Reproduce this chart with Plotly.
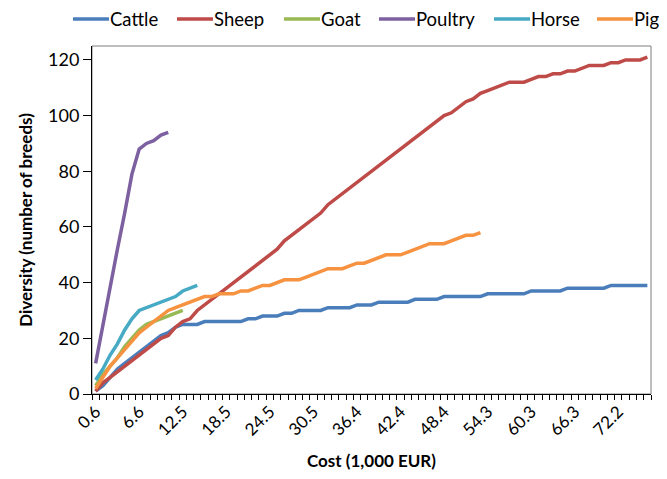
import plotly.graph_objects as go

categories = ["0.6","1.6","2.6","3.6","4.6","5.6","6.6","7.6","8.6","9.6","10.6","11.5","12.5","13.5",
              "14.5","15.5","16.5","17.5","18.5","19.5","20.5","21.5","22.5","23.5","24.5","25.5","26.5",
              "27.5","28.5","29.5","30.5","31.4","32.4","33.4","34.4","35.4","36.4","37.4","38.4","39.4",
              "40.4","41.4","42.4","43.4","44.4","45.4","46.4","47.4","48.4","49.4","50.4","51.3","52.3",
              "53.3","54.3","55.3","56.3","57.3","58.3","59.3","60.3","61.3","62.3","63.3","64.3","65.3",
              "66.3","67.3","68.3","69.3","70.3","71.2","72.2","73.2","74.2","75.2","76.2"]

tick_labels = ["0.6","6.6","12.5","18.5","24.5","30.5","36.4","42.4","48.4","54.3","60.3","66.3","72.2"]

cattle = [1,3,6,9,11,13,15,17,19,21,22,24,25,25,25,26,26,26,26,26,26,27,27,28,28,28,29,29,30,30,
          30,30,31,31,31,31,32,32,32,33,33,33,33,33,34,34,34,34,35,35,35,35,35,35,36,36,36,36,36,36,
          37,37,37,37,37,38,38,38,38,38,38,39,39,39,39,39,39]
sheep = [1,4,6,8,10,12,14,16,18,20,21,24,26,27,30,32,34,36,38,40,42,44,46,48,50,52,55,57,59,61,
         63,65,68,70,72,74,76,78,80,82,84,86,88,90,92,94,96,98,100,101,103,105,106,108,109,110,111,112,112,112,
         113,114,114,115,115,116,116,117,118,118,118,119,119,120,120,120,121]
goat = [3,7,10,13,17,20,23,25,26,27,28,29,30]
poultry = [11,25,39,52,65,79,88,90,91,93,94]
horse = [5,9,14,18,23,27,30,31,32,33,34,35,37,38,39]
pig = [2,6,10,13,16,19,22,24,26,28,30,31,32,33,34,35,35,36,36,36,37,37,38,39,39,40,41,41,41,42,
       43,44,45,45,45,46,47,47,48,49,50,50,50,51,52,53,54,54,54,55,56,57,57,58]

series = [("Cattle", cattle, "#4A7EBB"), ("Sheep", sheep, "#BE4B48"), ("Goat", goat, "#98B954"),
          ("Poultry", poultry, "#7D60A0"), ("Horse", horse, "#46AAC5"), ("Pig", pig, "#F69240")]

# ---- layout geometry (figure pixels) ----
W, H = 659, 463
ML, MR, MT, MB = 84, 16, 38, 77
PW, PH = W - ML - MR, H - MT - MB
LEG_Y = 11
LEG_LINE_X = [65, 169, 276, 371, 486, 589]
LEG_LINE_LEN = 36


def px2paper_x(px):
    return (px - ML) / PW


def px2paper_y(py):
    return (H - MB - py) / PH


FONT = "Lato"
fig = go.Figure()
for name, vals, col in series:
    fig.add_trace(go.Scatter(x=categories[:len(vals)], y=vals, name=name, mode="lines",
                             line=dict(color=col, width=3.5), showlegend=False))

shapes = [dict(type="rect", xref="paper", yref="paper", x0=0, x1=1, y0=0, y1=1,
               line=dict(color="#7f7f7f", width=1), layer="below")]
annotations = []
for (name, vals, col), lx in zip(series, LEG_LINE_X):
    shapes.append(dict(type="line", xref="paper", yref="paper",
                       x0=px2paper_x(lx), x1=px2paper_x(lx + LEG_LINE_LEN),
                       y0=px2paper_y(LEG_Y), y1=px2paper_y(LEG_Y),
                       line=dict(color=col, width=3.5)))
    annotations.append(dict(text=name, xref="paper", yref="paper",
                            x=px2paper_x(lx + LEG_LINE_LEN + 1), y=px2paper_y(LEG_Y),
                            xanchor="left", yanchor="middle", showarrow=False,
                            borderpad=0, borderwidth=0,
                            font=dict(family=FONT, size=18.5, color="#000")))

ticktext = [c if c in tick_labels else "" for c in categories]
fig.update_layout(
    width=W, height=H,
    margin=dict(l=ML, r=MR, t=MT, b=MB, autoexpand=False),
    paper_bgcolor="white", plot_bgcolor="white",
    font=dict(family=FONT, size=17, color="#000"),
    showlegend=False,
    xaxis=dict(type="category", categoryorder="array", categoryarray=categories,
               tickmode="array", tickvals=categories, ticktext=ticktext, automargin=False,
               tickson="boundaries", ticks="outside", ticklen=5, tickcolor="#000",
               tickangle=-45, showline=True, linecolor="#000", linewidth=1,
               showgrid=False, zeroline=False, range=[-0.5, len(categories) - 0.5],
               tickfont=dict(size=17),
               title=dict(text="<b>Cost (1,000 EUR)</b>", font=dict(size=17), standoff=22)),
    yaxis=dict(range=[0, 125], tickvals=[0, 20, 40, 60, 80, 100, 120], ticks="outside", ticklen=8,
               tickcolor="#000", showline=True, linecolor="#000", linewidth=1, showgrid=False,
               zeroline=False, tickfont=dict(size=18), automargin=False,
               title=dict(text="<b>Diversity (number of breeds)</b>", font=dict(size=17), standoff=11)),
    shapes=shapes,
    annotations=annotations,
)
fig.write_html("out.html")
